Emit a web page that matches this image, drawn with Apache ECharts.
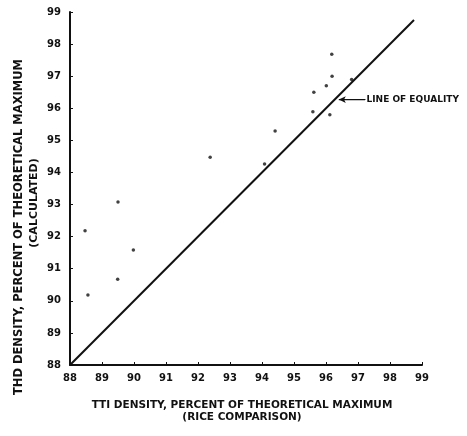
<!DOCTYPE html>
<html>
<head>
<meta charset="utf-8">
<script src="https://cdn.jsdelivr.net/npm/echarts@6/dist/echarts.min.js"></script>
<style>
  html, body { margin: 0; padding: 0; background: #fff; }
  #chart { width: 467px; height: 436px; }
</style>
</head>
<body>
<div id="chart"></div>
<script>
// TTI density (Rice comparison) vs THD density (calculated), % of theoretical maximum
const ttiDensity = [96.18, 96.19, 96.80, 96.01, 95.62, 95.59, 96.12, 94.41, 94.08, 92.38, 89.50, 88.47, 89.98, 89.49, 88.56];
const thdDensity = [97.68, 97.00, 96.90, 96.70, 96.50, 95.89, 95.80, 95.29, 94.26, 94.47, 93.08, 92.18, 91.58, 90.67, 90.18];

// Line of equality end points (x = y)
const equalityLine = [88, 98.75];

// Arrow from the annotation text to the line of equality
const arrowX = [97.22, 96.40];
const arrowY = 96.27;
const arrowText = 'LINE OF EQUALITY';

const axisMin = 88;
const axisMax = 99;
const xNameLines = ['TTI DENSITY, PERCENT OF THEORETICAL MAXIMUM', '(RICE COMPARISON)'];
const yNameLines = ['THD DENSITY, PERCENT OF THEORETICAL MAXIMUM', '(CALCULATED)'];

const font = '"DejaVu Sans", "Liberation Sans", Arial, sans-serif';
const ink = '#111';

const points = ttiDensity.map((x, i) => [x, thdDensity[i]]);

const chart = echarts.init(document.getElementById('chart'), null, { renderer: 'canvas' });

const axisCommon = {
  type: 'value',
  min: axisMin,
  max: axisMax,
  interval: 1,
  axisLine: { show: true, onZero: false, lineStyle: { color: ink, width: 2 } },
  axisTick: { show: true, inside: true, length: 3, lineStyle: { color: ink, width: 1 } },
  axisLabel: { color: ink, fontFamily: font, fontWeight: 'bold', fontSize: 10 },
  splitLine: { show: false }
};

function nameText(text, x, y, size, rotated) {
  return {
    type: 'text',
    x: x,
    y: y,
    rotation: rotated ? Math.PI / 2 : 0,
    style: {
      text: text,
      fill: ink,
      font: 'bold ' + size + 'px ' + font,
      align: 'center',
      verticalAlign: 'middle'
    }
  };
}

chart.setOption({
  animation: false,
  backgroundColor: '#fff',
  grid: { left: 70, right: 45, top: 12, bottom: 71, containLabel: false },
  xAxis: Object.assign({}, axisCommon, {
    axisLabel: Object.assign({}, axisCommon.axisLabel, { margin: 8 })
  }),
  yAxis: Object.assign({}, axisCommon, {
    axisLabel: Object.assign({}, axisCommon.axisLabel, { margin: 9 })
  }),
  graphic: [
    nameText(xNameLines[0], 242, 405, 10.5, false),
    nameText(xNameLines[1], 242, 417, 10.5, false),
    nameText(yNameLines[0], 19, 227, 11.5, true),
    nameText(yNameLines[1], 34, 203, 11, true)
  ],
  series: [
    {
      type: 'line',
      data: equalityLine.map(v => [v, v]),
      symbol: 'none',
      lineStyle: { color: ink, width: 2 },
      z: 2
    },
    {
      type: 'scatter',
      data: points,
      symbol: 'circle',
      symbolSize: 3.5,
      itemStyle: { color: ink },
      z: 3
    },
    {
      type: 'line',
      data: [
        {
          value: [arrowX[0], arrowY],
          symbol: 'circle',
          symbolSize: 1,
          label: { show: true, position: 'right', distance: 1, formatter: arrowText, color: ink, fontFamily: font, fontWeight: 'bold', fontSize: 9 }
        },
        { value: [arrowX[1], arrowY], symbol: 'arrow', symbolSize: [5, 7], symbolRotate: 90 }
      ],
      showSymbol: true,
      itemStyle: { color: ink },
      lineStyle: { color: ink, width: 1.2 },
      z: 4
    }
  ]
});
</script>
</body>
</html>
